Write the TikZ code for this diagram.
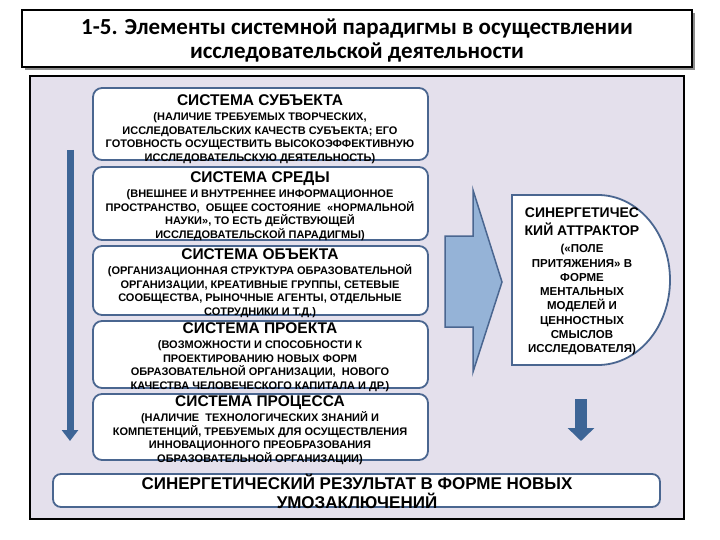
\documentclass[tikz,border=0pt]{standalone}
\usepackage{fontspec}
\setmainfont{Liberation Sans}
\newfontfamily\titlefont{Carlito}
\usetikzlibrary{arrows.meta}
\definecolor{panelbg}{RGB}{228,224,236}
\definecolor{boxline}{RGB}{74,102,144}
\definecolor{arrowblue}{RGB}{61,101,150}
\definecolor{bigarrow}{RGB}{149,179,215}
\tikzset{
  sysbox/.style={draw=boxline,line width=1.8pt,fill=white,rounded corners=9pt,
    minimum width=335pt,inner sep=0pt},
  systext/.style={align=center,anchor=north,inner sep=0pt,
    font=\bfseries\fontsize{11}{13.4}\selectfont},
  flowarrow/.style={draw=arrowblue,line width=7pt,-{Triangle[width=16pt,length=11pt]}}
}
\newcommand{\syshead}[1]{{\fontsize{15.5}{17}\selectfont #1}\\[2.4pt]}
\begin{document}
\begin{tikzpicture}[x=1pt,y=-1pt]
  \useasboundingbox (0,0) rectangle (720,540);
  % title
  \fill[black!45] (25,13) rectangle (695,70);
  \draw[line width=1.2pt,fill=white] (22,10) rectangle (692,67);
  \node[align=center,font=\titlefont\bfseries\fontsize{23}{24}\selectfont] (title) at (357,41)
    {1-5. Элементы системной парадигмы в осуществлении\\исследовательской деятельности};
  % panel
  \draw[line width=1.2pt,fill=panelbg] (30,76) rectangle (684,519);

  % five systems
  \node[sysbox,minimum height=72pt] (subj) at (260.5,124) {};
  \node[sysbox,minimum height=73pt] (env) at (260.5,203.5) {};
  \node[sysbox,minimum height=69pt] (obj) at (260.5,280.5) {};
  \node[sysbox,minimum height=67pt] (proj) at (260.5,354.5) {};
  \node[sysbox,minimum height=66pt] (proc) at (260.5,427) {};

  \node[systext] (subjtxt) at (260,94) {\syshead{СИСТЕМА СУБЪЕКТА}(НАЛИЧИЕ ТРЕБУЕМЫХ ТВОРЧЕСКИХ,\\
    ИССЛЕДОВАТЕЛЬСКИХ КАЧЕСТВ СУБЪЕКТА; ЕГО\\ГОТОВНОСТЬ ОСУЩЕСТВИТЬ ВЫСОКОЭФФЕКТИВНУЮ\\
    ИССЛЕДОВАТЕЛЬСКУЮ ДЕЯТЕЛЬНОСТЬ)};
  \node[systext] (envtxt) at (260,171) {\syshead{СИСТЕМА СРЕДЫ}(ВНЕШНЕЕ И ВНУТРЕННЕЕ ИНФОРМАЦИОННОЕ\\
    ПРОСТРАНСТВО,\ \ ОБЩЕЕ СОСТОЯНИЕ \ «НОРМАЛЬНОЙ\\НАУКИ», ТО ЕСТЬ ДЕЙСТВУЮЩЕЙ\\
    ИССЛЕДОВАТЕЛЬСКОЙ ПАРАДИГМЫ)};
  \node[systext] (objtxt) at (260,248) {\syshead{СИСТЕМА ОБЪЕКТА}(ОРГАНИЗАЦИОННАЯ СТРУКТУРА ОБРАЗОВАТЕЛЬНОЙ\\
    ОРГАНИЗАЦИИ, КРЕАТИВНЫЕ ГРУППЫ, СЕТЕВЫЕ\\СООБЩЕСТВА, РЫНОЧНЫЕ АГЕНТЫ, ОТДЕЛЬНЫЕ\\
    СОТРУДНИКИ И Т.Д.)};
  \node[systext] (projtxt) at (260,322) {\syshead{СИСТЕМА ПРОЕКТА}(ВОЗМОЖНОСТИ И СПОСОБНОСТИ К\\
    ПРОЕКТИРОВАНИЮ НОВЫХ ФОРМ\\ОБРАЗОВАТЕЛЬНОЙ ОРГАНИЗАЦИИ,\ \ НОВОГО\\
    КАЧЕСТВА ЧЕЛОВЕЧЕСКОГО КАПИТАЛА И ДР.)};
  \node[systext] (proctxt) at (260,395) {\syshead{СИСТЕМА ПРОЦЕССА}(НАЛИЧИЕ \ ТЕХНОЛОГИЧЕСКИХ ЗНАНИЙ И\\
    КОМПЕТЕНЦИЙ, ТРЕБУЕМЫХ ДЛЯ ОСУЩЕСТВЛЕНИЯ\\ИННОВАЦИОННОГО ПРЕОБРАЗОВАНИЯ\\
    ОБРАЗОВАТЕЛЬНОЙ ОРГАНИЗАЦИИ)};

  % left flow arrow
  \coordinate (ltop) at (70,150);
  \coordinate (lbot) at (70,441);
  \draw[flowarrow] (ltop) -- (lbot);

  % big arrow to attractor
  \draw[draw=boxline,line width=1.5pt,fill=bigarrow,line join=miter]
    (445,236) -- (473,236) -- (473,190) -- (502,282) -- (473,372) -- (473,327) -- (445,327) -- cycle;

  % attractor
  \draw[draw=boxline,line width=1.8pt,fill=white]
    (512,195) -- (598,195) arc[start angle=90,end angle=-90,x radius=72pt,y radius=85pt]
    -- (512,365) -- cycle;
  \node[align=center,anchor=north,inner sep=0pt,font=\bfseries\fontsize{11.5}{14.3}\selectfont] (attr) at (582,208)
    {{\fontsize{14}{18}\selectfont СИНЕРГЕТИЧЕС}\\[3.7pt]{\fontsize{14}{18}\selectfont КИЙ АТТРАКТОР}\\[2.5pt]
     («ПОЛЕ\\ПРИТЯЖЕНИЯ» В\\ФОРМЕ\\МЕНТАЛЬНЫХ\\МОДЕЛЕЙ И\\ЦЕННОСТНЫХ\\СМЫСЛОВ\\ИССЛЕДОВАТЕЛЯ)};

  % down arrow to result
  \coordinate (rtop) at (581,399);
  \coordinate (rbot) at (581,441);
  \draw[draw=arrowblue,line width=12pt,-{Triangle[width=26pt,length=13pt]}] (rtop) -- (rbot);

  % result
  \node[draw=boxline,line width=1.8pt,fill=white,rounded corners=8pt,minimum width=607pt,
    minimum height=33pt,inner sep=0pt] (result) at (356.5,490.5) {};
  \node[align=center,anchor=north,inner sep=0pt,font=\bfseries\fontsize{17}{19}\selectfont] (restxt) at (357,474)
    {СИНЕРГЕТИЧЕСКИЙ РЕЗУЛЬТАТ В ФОРМЕ НОВЫХ\\УМОЗАКЛЮЧЕНИЙ};
\end{tikzpicture}
\end{document}
